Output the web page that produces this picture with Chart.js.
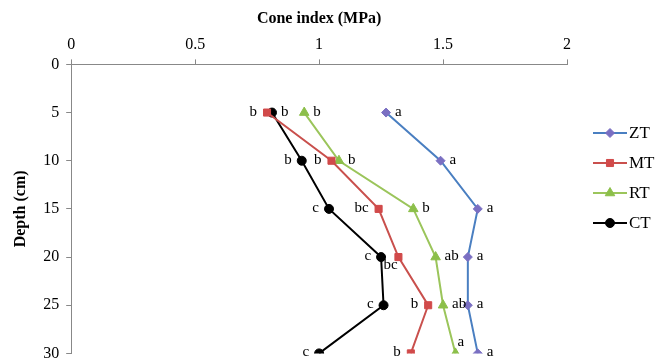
<!DOCTYPE html>
<html>
<head>
<meta charset="utf-8">
<script src="https://cdn.jsdelivr.net/npm/chart.js@4/dist/chart.umd.min.js"></script>
<style>
  html, body { margin: 0; padding: 0; background: #fff; overflow: hidden; }
  #wrap { width: 655px; height: 363px; overflow: hidden; }
</style>
</head>
<body>
<div id="wrap"><canvas id="cone" width="655" height="370"></canvas></div>
<script>
const depths = [5, 10, 15, 20, 25, 30]
const zt = [1.27, 1.49, 1.64, 1.60, 1.60, 1.64]
const mt = [0.79, 1.05, 1.24, 1.32, 1.44, 1.37]
const rt = [0.94, 1.08, 1.38, 1.47, 1.50, 1.55]
const ct = [0.81, 0.93, 1.04, 1.25, 1.26, 1.00]
// significance letters for each point
const ztLetters = ['a', 'a', 'a', 'a', 'a', 'a']
const mtLetters = ['b', 'b', 'bc', 'bc', 'b', 'b']
const rtLetters = ['b', 'b', 'b', 'ab', 'ab', 'a']
const ctLetters = ['b', 'b', 'c', 'c', 'c', 'c']

const serif = '"Liberation Serif", "DejaVu Serif", serif'

function pts(vals) {
    return vals.map((v, i) => ({ x: v, y: depths[i] }))
}

// where each letter sits relative to its point
const letterSide = {
    ZT: ['r', 'r', 'r', 'r', 'r', 'r'],
    MT: ['l', 'l', 'l', 'lb', 'l', 'l'],
    RT: ['r', 'r', 'r', 'r', 'r', 'ra'],
    CT: ['r', 'l', 'l', 'l', 'l', 'l']
}

const lettersPlugin = {
    id: 'letters',
    afterDatasetsDraw(chart) {
        const ctx = chart.ctx
        ctx.save()
        ctx.font = '15px ' + serif
        ctx.fillStyle = '#000'
        ctx.textBaseline = 'middle'
        chart.data.datasets.forEach((ds, di) => {
            const meta = chart.getDatasetMeta(di)
            meta.data.forEach((p, i) => {
                const side = letterSide[ds.label][i]
                const t = ds.letters[i]
                let x = p.x, y = p.y
                if (side === 'r') { ctx.textAlign = 'left'; x += 9 }
                else if (side === 'ra') { ctx.textAlign = 'left'; x += 2; y -= 10 }
                else if (side === 'lb') { ctx.textAlign = 'left'; x -= 15; y += 9 }
                else { ctx.textAlign = 'right'; x -= 10 }
                ctx.fillText(t, x, y - 1)
            })
        })
        ctx.restore()
    }
}

const legendPlugin = {
    id: 'sideLegend',
    afterDraw(chart) {
        const ctx = chart.ctx
        ctx.save()
        ctx.font = '17px ' + serif
        ctx.textBaseline = 'middle'
        ctx.textAlign = 'left'
        chart.data.datasets.forEach((ds, di) => {
            const y = 133 + di * 30
            ctx.strokeStyle = ds.borderColor
            ctx.lineWidth = 2
            ctx.beginPath()
            ctx.moveTo(593, y)
            ctx.lineTo(627, y)
            ctx.stroke()
            ctx.fillStyle = ds.pointBackgroundColor
            ctx.strokeStyle = ds.pointBorderColor
            ctx.lineWidth = 1
            Chart.helpers.drawPoint(ctx, {
                pointStyle: ds.pointStyle,
                radius: ds.pointRadius,
                borderWidth: 1
            }, 610, y)
            ctx.fillStyle = '#000'
            ctx.fillText(ds.label, 629, y + 1)
        })
        ctx.restore()
    }
}

new Chart(document.getElementById('cone'), {
    type: 'line',
    data: {
        datasets: [{
            label: 'ZT',
            data: pts(zt),
            letters: ztLetters,
            borderColor: '#4a7fc1',
            pointBackgroundColor: '#7a6fc2',
            pointBorderColor: '#7a6fc2',
            pointStyle: 'rectRot',
            pointRadius: 4.5
        }, {
            label: 'MT',
            data: pts(mt),
            letters: mtLetters,
            borderColor: '#c9504d',
            pointBackgroundColor: '#d14a4a',
            pointBorderColor: '#d14a4a',
            pointStyle: 'rect',
            pointRadius: 5
        }, {
            label: 'RT',
            data: pts(rt),
            letters: rtLetters,
            borderColor: '#9bc55b',
            pointBackgroundColor: '#8cbf4a',
            pointBorderColor: '#8cbf4a',
            pointStyle: 'triangle',
            pointRadius: 5.5
        }, {
            label: 'CT',
            data: pts(ct),
            letters: ctLetters,
            borderColor: '#000000',
            pointBackgroundColor: '#000000',
            pointBorderColor: '#000000',
            pointStyle: 'circle',
            pointRadius: 4.5
        }]
    },
    options: {
        responsive: false,
        animation: false,
        layout: { padding: { left: 11, right: 88, top: 9, bottom: 0 } },
        elements: { line: { borderWidth: 2, tension: 0, fill: false } },
        plugins: { legend: { display: false }, tooltip: { enabled: false } },
        scales: {
            x: {
                type: 'linear',
                position: 'top',
                min: 0,
                max: 2,
                ticks: {
                    stepSize: 0.5, color: '#000', font: { family: serif, size: 16 }, padding: 5,
                    callback: v => String(v)
                },
                grid: { display: true, drawOnChartArea: false, drawTicks: true, tickLength: 5, color: '#888' },
                border: { color: '#888', width: 1 },
                title: { display: true, text: 'Cone index (MPa)', color: '#000', font: { family: serif, size: 16, weight: 'bold' }, padding: { top: 0, bottom: 2 } }
            },
            y: {
                type: 'linear',
                reverse: true,
                min: 0,
                max: 30,
                ticks: { stepSize: 5, color: '#000', font: { family: serif, size: 16 }, padding: 7 },
                grid: { display: true, drawOnChartArea: false, drawTicks: true, tickLength: 5, color: '#888' },
                border: { color: '#888', width: 1 },
                title: { display: true, text: 'Depth (cm)', color: '#000', font: { family: serif, size: 16, weight: 'bold' }, padding: { top: 0, bottom: 6 } }
            }
        }
    },
    plugins: [lettersPlugin, legendPlugin]
})
</script>
</body>
</html>
